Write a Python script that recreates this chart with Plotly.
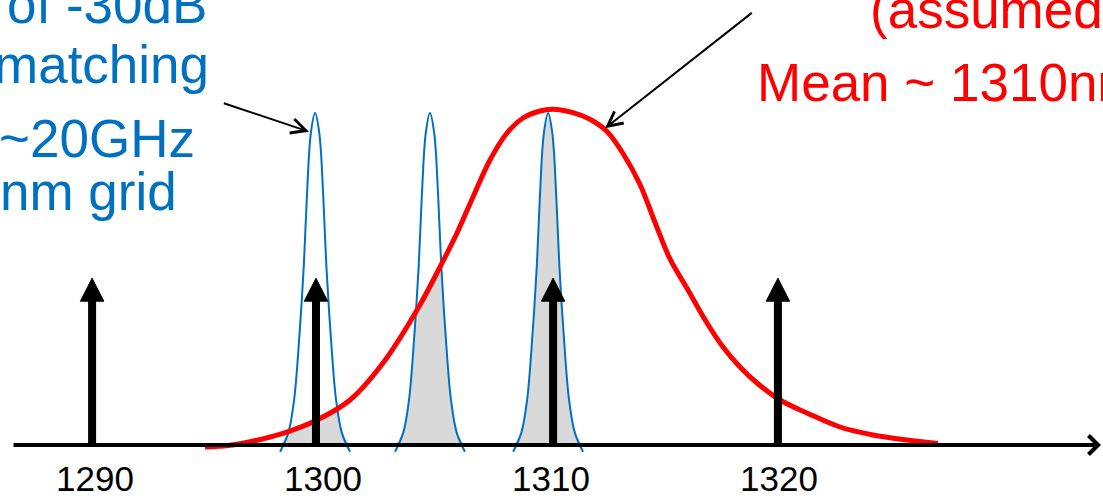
import numpy as np
import plotly.graph_objects as go

# ---------------- data ----------------
tick_vals = [1290, 1300, 1310, 1320]
tick_text = ["1290", "1300", "1310", "1320"]

laser_nm = [1289.96, 1299.78, 1310.18, 1320.04]
laser_height = [0.495, 0.495, 0.495, 0.495]

filter_centers = [1299.74, 1304.78, 1309.96]
filter_dx = [-1.535, -1.175, -0.92, -0.68, -0.496, -0.366, -0.184, 0.0,
             0.184, 0.366, 0.496, 0.68, 0.92, 1.175, 1.535]
filter_y = [-0.02, 0.036, 0.134, 0.332, 0.53, 0.727, 0.926, 0.985,
            0.926, 0.727, 0.53, 0.332, 0.134, 0.036, -0.02]

spec_nm = [1294.912, 1295.921, 1296.886, 1298.333, 1299.825, 1301.272,
           1302.719, 1304.211, 1305.219, 1305.965, 1306.667, 1307.412,
           1308.158, 1308.860, 1309.605, 1310.175, 1311.053, 1311.798,
           1312.544, 1313.246, 1313.991, 1314.693, 1315.307, 1316.096,
           1316.930, 1317.632, 1318.377, 1319.123, 1320.132, 1321.316,
           1322.763, 1324.211, 1325.702, 1327.061]
spec_y = [-0.006, -0.0015, 0.0098, 0.0347, 0.0742, 0.1335, 0.2433, 0.4006,
          0.5282, 0.6291, 0.7359, 0.8457, 0.9258, 0.9703, 0.9911, 0.9961,
          0.9862, 0.9665, 0.9303, 0.8650, 0.7730, 0.6530, 0.5520, 0.4600,
          0.3620, 0.2908, 0.2315, 0.1840, 0.1335, 0.0950, 0.0534, 0.0297,
          0.0148, 0.0045]

# ---------------- geometry / style ----------------
W, H = 1103, 498
PX_PER_NM = 22.8
PX_PER_Y = 337.0
X0_PX = 93          # pixel of 1290 nm
BASE_PX = 445       # pixel row of y = 0
xr = [1290 - X0_PX / PX_PER_NM, 1290 + (W - X0_PX) / PX_PER_NM]
yr = [-(H - BASE_PX) / PX_PER_Y, BASE_PX / PX_PER_Y]

BLUE = "#0070C0"
RED = "#FF0000"
GRAY = "#D9D9D9"
FONT = "Liberation Sans, Arial, sans-serif"

fig = go.Figure()

# gray overlap areas (filter area, later masked above the red spectrum)
for c in filter_centers:
    xs = [c + d for d in filter_dx]
    ys = [max(v, 0.0) for v in filter_y]
    fig.add_trace(go.Scatter(x=xs, y=ys, mode="lines", fill="toself",
                             fillcolor=GRAY, line=dict(width=0, shape="spline"),
                             hoverinfo="skip"))

# white mask above the red spectrum
fig.add_trace(go.Scatter(x=spec_nm, y=spec_y, mode="lines",
                         line=dict(width=0, shape="spline", smoothing=1.0),
                         hoverinfo="skip"))
fig.add_trace(go.Scatter(x=spec_nm, y=[yr[1] + 0.5] * len(spec_nm), mode="lines",
                         fill="tonexty", fillcolor="white",
                         line=dict(width=0), hoverinfo="skip"))

# blue filter curves
for c in filter_centers:
    fig.add_trace(go.Scatter(x=[c + d for d in filter_dx], y=filter_y, mode="lines",
                             line=dict(color=BLUE, width=2, shape="spline"),
                             hoverinfo="skip"))

# red spectrum
fig.add_trace(go.Scatter(x=spec_nm, y=spec_y, mode="lines",
                         line=dict(color=RED, width=5, shape="spline", smoothing=1.0),
                         hoverinfo="skip"))

# laser arrows: stems and heads
head_h = 23 / PX_PER_Y
head_hw = 11.7 / PX_PER_NM
sx, sy, hx, hy = [], [], [], []
for xv, tip in zip(laser_nm, laser_height):
    base = tip - head_h
    sx += [xv, xv, None]
    sy += [-0.006, base + 0.005, None]
    hx += [xv - head_hw, xv + head_hw, xv, xv - head_hw, None]
    hy += [base, base, tip, base, None]
fig.add_trace(go.Scatter(x=sx, y=sy, mode="lines", line=dict(color="black", width=8),
                         hoverinfo="skip"))
fig.add_trace(go.Scatter(x=hx, y=hy, mode="lines", fill="toself", fillcolor="black",
                         line=dict(color="black", width=1), hoverinfo="skip"))

annotations = []

def px(xp, yp):
    return xp / W, 1 - yp / H

# x axis line with open arrow head
ax_x, ax_y = px(1101, BASE_PX)
annotations.append(dict(xref="paper", yref="paper", x=ax_x, y=ax_y, text="",
                        showarrow=True, axref="pixel", ayref="pixel",
                        ax=12 - 1101, ay=0, arrowhead=4, arrowwidth=4,
                        arrowsize=0.92, arrowcolor="black"))

# pointer arrows
for (tx, ty), (tipx, tipy) in [((222.3, 102.7), (309, 131.7)),
                               ((753.3, 11.7), (605, 128.3))]:
    a, b = px(tipx, tipy)
    annotations.append(dict(xref="paper", yref="paper", x=a, y=b, text="",
                            showarrow=True, axref="pixel", ayref="pixel",
                            ax=tx - tipx, ay=ty - tipy, arrowhead=5,
                            arrowwidth=2, arrowsize=1.45, arrowcolor="black"))

# texts
def text(t, xp, top_px, anchor, color):
    a, b = px(xp, top_px)
    annotations.append(dict(xref="paper", yref="paper", x=a, y=b, text=t,
                            showarrow=False, xanchor=anchor, yanchor="top",
                            font=dict(family=FONT, size=53, color=color)))

text("of -30dB", 209, -27, "right", BLUE)
text("matching", 211, 33, "right", BLUE)
text("~20GHz", 197, 107, "right", BLUE)
text("nm grid", 179, 160, "right", BLUE)
text("(assumed", 868, -22, "left", RED)
text("Mean ~ 1310nm", 755, 51, "left", RED)

fig.update_layout(
    width=W, height=H,
    margin=dict(l=0, r=0, t=0, b=0),
    paper_bgcolor="white", plot_bgcolor="white",
    showlegend=False, hovermode=False,
    annotations=annotations,
    xaxis=dict(range=xr, showgrid=False, zeroline=False, showline=False,
               tickvals=tick_vals, ticktext=tick_text, ticks="",
               tickfont=dict(family=FONT, size=35, color="black"),
               anchor="free", position=(0 - yr[0]) / (yr[1] - yr[0]),
               ticklabelstandoff=10, ticklabelshift=2,
               automargin=False, fixedrange=True),
    yaxis=dict(range=yr, visible=False, showgrid=False, zeroline=False,
               fixedrange=True),
)

fig.write_html("out.html")
